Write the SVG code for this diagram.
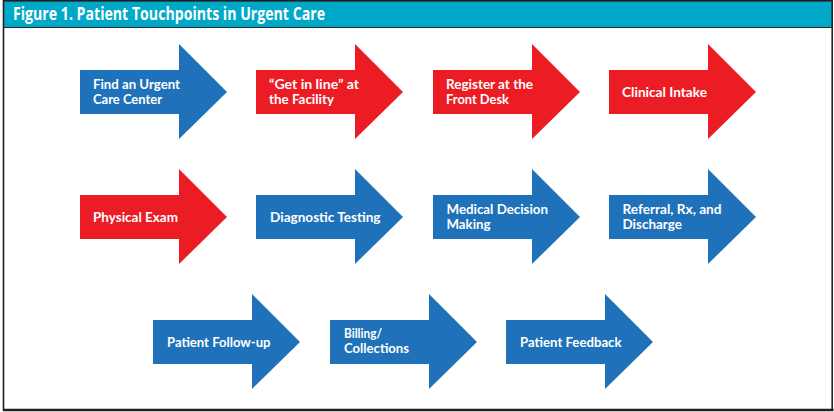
<svg xmlns="http://www.w3.org/2000/svg" width="834" height="412" viewBox="0 0 834 412">
<defs>
<style>
.blue{fill:#1f72b9}
.red{fill:#ec1c24}
.lbl{font-family:Lato,"Liberation Sans",sans-serif;font-weight:700;font-size:12.4px;fill:#ffffff}
.title{font-family:"Open Sans","Noto Sans","Liberation Sans",sans-serif;font-weight:700;font-size:17px;fill:#ffffff}
</style>
<path id="arr" d="M0,0 H99 V-26 L147,22 L99,69 V44 H0 Z"/>
</defs>
<rect x="0" y="0" width="834" height="412" fill="#ffffff"/>
<rect x="3.5" y="1" width="828.5" height="26" fill="#00a8c8"/>
<line x1="3.5" y1="27.5" x2="832" y2="27.5" stroke="#1e2a2e" stroke-width="1.2"/>
<rect x="3.5" y="0.8" width="828.7" height="409" fill="none" stroke="#231f20" stroke-width="1.6"/>
<line x1="3" y1="410" x2="833.5" y2="410" stroke="#231f20" stroke-width="2.5"/>
<text class="title" x="13" y="20" textLength="312" lengthAdjust="spacingAndGlyphs">Figure 1. Patient Touchpoints in Urgent Care</text>

<g id="connectors"></g>

<g id="n1"><use href="#arr" class="blue" x="80" y="70"/>
<text class="lbl"><tspan x="93" y="88.5" textLength="87" lengthAdjust="spacingAndGlyphs">Find an Urgent</tspan><tspan x="93" y="103.5" textLength="69" lengthAdjust="spacingAndGlyphs">Care Center</tspan></text></g>
<g id="n2"><use href="#arr" class="red" x="256" y="70"/>
<text class="lbl"><tspan x="269" y="88.5" textLength="90" lengthAdjust="spacingAndGlyphs">“Get in line” at</tspan><tspan x="269" y="103.5" textLength="65" lengthAdjust="spacingAndGlyphs">the Facility</tspan></text></g>
<g id="n3"><use href="#arr" class="red" x="433" y="70"/>
<text class="lbl"><tspan x="446" y="88.5" textLength="87" lengthAdjust="spacingAndGlyphs">Register at the</tspan><tspan x="446" y="103.5" textLength="63" lengthAdjust="spacingAndGlyphs">Front Desk</tspan></text></g>
<g id="n4"><use href="#arr" class="red" x="609" y="70"/>
<text class="lbl" x="622" y="96.5" textLength="85" lengthAdjust="spacingAndGlyphs">Clinical Intake</text></g>

<g id="n5"><use href="#arr" class="red" x="80" y="195"/>
<text class="lbl" x="93" y="221.5" textLength="85" lengthAdjust="spacingAndGlyphs">Physical Exam</text></g>
<g id="n6"><use href="#arr" class="blue" x="256" y="195"/>
<text class="lbl" x="270" y="221.5" textLength="110.5" lengthAdjust="spacingAndGlyphs">Diagnostic Testing</text></g>
<g id="n7"><use href="#arr" class="blue" x="433" y="195"/>
<text class="lbl"><tspan x="446.5" y="213.5" textLength="101.5" lengthAdjust="spacingAndGlyphs">Medical Decision</tspan><tspan x="446.5" y="228.5" textLength="44" lengthAdjust="spacingAndGlyphs">Making</tspan></text></g>
<g id="n8"><use href="#arr" class="blue" x="609" y="195"/>
<text class="lbl"><tspan x="622.5" y="213.5" textLength="99" lengthAdjust="spacingAndGlyphs">Referral, Rx, and</tspan><tspan x="622.5" y="228.5" textLength="59.5" lengthAdjust="spacingAndGlyphs">Discharge</tspan></text></g>

<g id="n9"><use href="#arr" class="blue" x="153" y="320"/>
<text class="lbl" x="167" y="346.5" textLength="103.5" lengthAdjust="spacingAndGlyphs">Patient Follow-up</text></g>
<g id="n10"><use href="#arr" class="blue" x="330" y="320"/>
<text class="lbl"><tspan x="344" y="338" textLength="38" lengthAdjust="spacingAndGlyphs">Billing/</tspan><tspan x="344" y="353" textLength="65" lengthAdjust="spacingAndGlyphs">Collections</tspan></text></g>
<g id="n11"><use href="#arr" class="blue" x="506" y="320"/>
<text class="lbl" x="520" y="346.5" textLength="101.5" lengthAdjust="spacingAndGlyphs">Patient Feedback</text></g>
</svg>
